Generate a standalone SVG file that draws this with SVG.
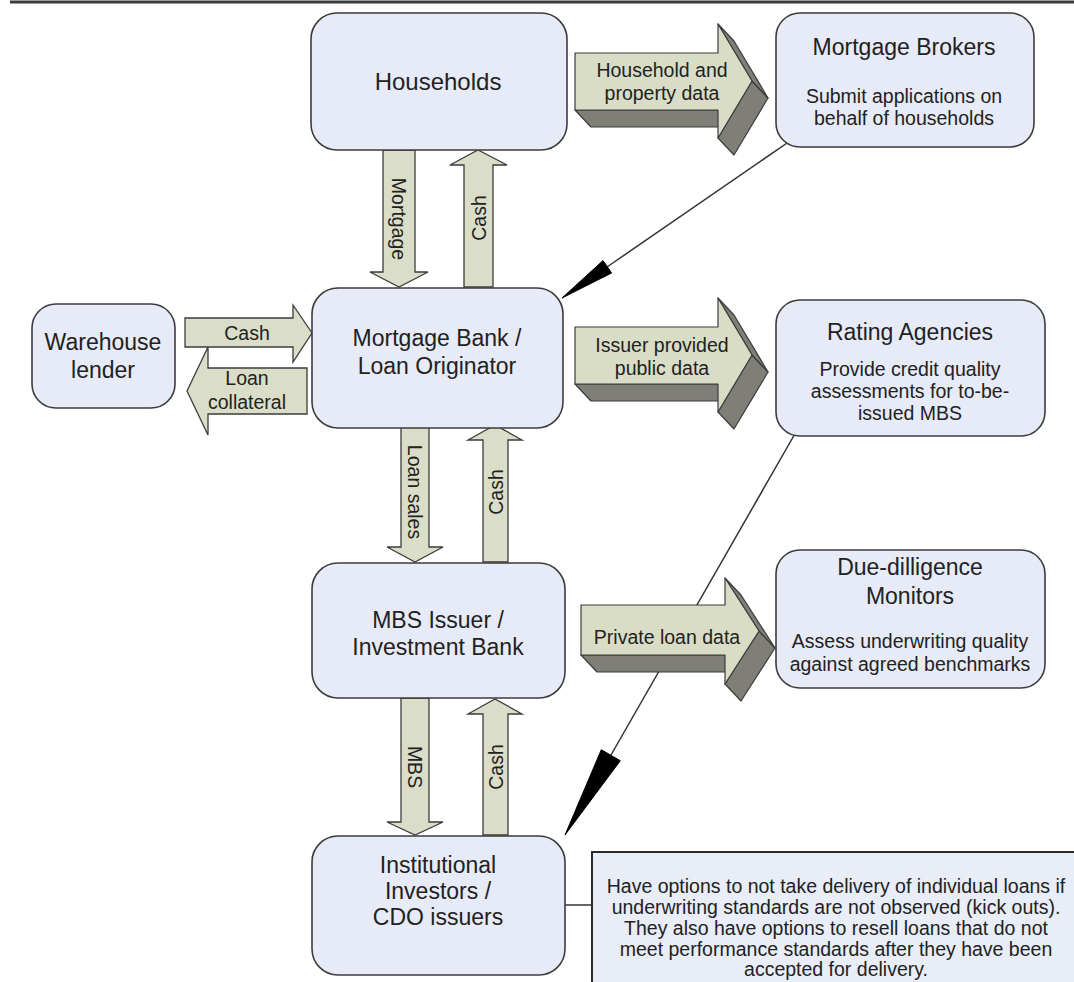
<svg xmlns="http://www.w3.org/2000/svg" width="1074" height="982" viewBox="0 0 1074 982">
<style>
  .node { fill: #e7eaf7; stroke: #3c3c3c; stroke-width: 1.6; }
  .t { font-family: "Liberation Sans", Arial, sans-serif; fill: #222; text-anchor: middle; }
  .big { font-size: 23px; }
  .sub { font-size: 19.5px; }
  .lab { font-size: 19.5px; }
  .nt { font-size: 19.5px; }
  .flow { fill: #dadec8; stroke: #3c3c3c; stroke-width: 1.3; stroke-linejoin: miter; }
  .side { fill: #7f7f77; stroke: #3c3c3c; stroke-width: 1.2; stroke-linejoin: round; }
  .face { fill: #d9ddc6; stroke: #3c3c3c; stroke-width: 1.2; stroke-linejoin: round; }
  .ln { stroke: #333; stroke-width: 1.5; fill: none; }
  .head { fill: #000; stroke: #000; stroke-width: 1; stroke-linejoin: round; }
  .note { fill: #e8edf8; stroke: #2a2a2a; stroke-width: 2; }
</style>
<rect x="0" y="0" width="1074" height="982" fill="#ffffff"/>
<line x1="10" y1="2" x2="1074" y2="2" stroke="#3a3a3a" stroke-width="3"/>

<g id="connectors">
  <!-- line connectors -->
  <line class="ln" x1="790" y1="141" x2="607" y2="267"/>
  <polygon class="head" points="603,260.6 611.6,273 562,298"/>
  <line class="ln" x1="796" y1="432" x2="611" y2="755"/>
  <polygon class="head" points="601.3,749.7 620.3,760.7 565,835"/>
  <line class="ln" x1="565" y1="905" x2="592" y2="905"/>

  <!-- vertical flows -->
  <polygon class="flow" points="383,150 415,150 415,272 428,272 399,287 370,272 383,272"/>
  <text class="t lab" transform="translate(399,219) rotate(90)" dy="0.35em">Mortgage</text>
  <polygon class="flow" points="464,287 493,287 493,165 507,165 478,150 450,165 464,165"/>
  <text class="t lab" transform="translate(479,218) rotate(-90)" dy="0.35em">Cash</text>

  <polygon class="flow" points="401,427 429,427 429,547 443,547 415,562 387,547 401,547"/>
  <text class="t lab" transform="translate(415,492) rotate(90)" dy="0.35em">Loan sales</text>
  <polygon class="flow" points="483,562 508,562 508,440 522,440 495,425 468,440 483,440"/>
  <text class="t lab" transform="translate(496,492) rotate(-90)" dy="0.35em">Cash</text>

  <polygon class="flow" points="401,698 429,698 429,822 443,822 415,835 387,822 401,822"/>
  <text class="t lab" transform="translate(415,767) rotate(90)" dy="0.35em">MBS</text>
  <polygon class="flow" points="483,835 508,835 508,714 522,714 495,699 468,714 483,714"/>
  <text class="t lab" transform="translate(496,767) rotate(-90)" dy="0.35em">Cash</text>

  <!-- horizontal flows with warehouse lender -->
  <polygon class="flow" points="185,318 293,318 293,305 312,333 293,362 293,347 185,347"/>
  <text class="t lab" x="247" y="340">Cash</text>
  <polygon class="flow" points="307,368 307,414 208,414 208,435 187,391 208,347 208,368"/>
  <text class="t lab" x="247" y="385">Loan</text>
  <text class="t lab" x="247" y="409">collateral</text>

  <!-- 3D data arrows -->
  <g id="arrow-household">
    <polygon class="side" points="575,110 718,110 734,127 591,127"/>
    <polygon class="side" points="718,138 752,81 768,98 734,155"/>
    <polygon class="side" points="718,24 752,81 768,98 734,41"/>
    <polygon class="face" points="575,53 718,53 718,24 752,81 718,138 718,110 575,110"/>
    <text class="t lab" x="662" y="77">Household and</text>
    <text class="t lab" x="662" y="100">property data</text>
  </g>
  <g id="arrow-issuer">
    <polygon class="side" points="575,384 718,384 734,401 591,401"/>
    <polygon class="side" points="718,412 752,355 768,372 734,429"/>
    <polygon class="side" points="718,298 752,355 768,372 734,315"/>
    <polygon class="face" points="575,327 718,327 718,298 752,355 718,412 718,384 575,384"/>
    <text class="t lab" x="662" y="352">Issuer provided</text>
    <text class="t lab" x="662" y="375">public data</text>
  </g>
  <g id="arrow-private">
    <polygon class="side" points="581,655 725,655 741,672 597,672"/>
    <polygon class="side" points="725,684 759,631 775,648 741,701"/>
    <polygon class="side" points="725,578 759,631 775,648 741,595"/>
    <polygon class="face" points="581,605 725,605 725,578 759,631 725,684 725,655 581,655"/>
    <text class="t lab" x="667" y="644">Private loan data</text>
  </g>
</g>

<g id="households">
  <rect class="node" x="311" y="13" width="256" height="137" rx="26"/>
  <text class="t" font-size="24" x="438" y="90">Households</text>
</g>
<g id="mortgage-bank">
  <rect class="node" x="312" y="288" width="251" height="140" rx="26"/>
  <text class="t big" x="437" y="346">Mortgage Bank /</text>
  <text class="t big" x="437" y="374">Loan Originator</text>
</g>
<g id="warehouse-lender">
  <rect class="node" x="32" y="304" width="143" height="104" rx="24"/>
  <text class="t big" x="103" y="350">Warehouse</text>
  <text class="t big" x="103" y="378">lender</text>
</g>
<g id="mbs-issuer">
  <rect class="node" x="312" y="563" width="253" height="135" rx="26"/>
  <text class="t big" x="438" y="628">MBS Issuer /</text>
  <text class="t big" x="438" y="655">Investment Bank</text>
</g>
<g id="institutional-investors">
  <rect class="node" x="312" y="836" width="253" height="139" rx="26"/>
  <text class="t big" x="438" y="873">Institutional</text>
  <text class="t big" x="438" y="899">Investors /</text>
  <text class="t big" x="438" y="925">CDO issuers</text>
</g>
<g id="mortgage-brokers">
  <rect class="node" x="776" y="13" width="258" height="134" rx="24"/>
  <text class="t big" x="904" y="55">Mortgage Brokers</text>
  <text class="t sub" x="904" y="103">Submit applications on</text>
  <text class="t sub" x="904" y="125">behalf of households</text>
</g>
<g id="rating-agencies">
  <rect class="node" x="776" y="300" width="269" height="136" rx="24"/>
  <text class="t big" x="910" y="340">Rating Agencies</text>
  <text class="t sub" x="910" y="376">Provide credit quality</text>
  <text class="t sub" x="910" y="398">assessments for to-be-</text>
  <text class="t sub" x="910" y="420">issued MBS</text>
</g>
<g id="due-diligence-monitors">
  <rect class="node" x="776" y="550" width="269" height="138" rx="24"/>
  <text class="t big" x="910" y="575">Due-dilligence</text>
  <text class="t big" x="910" y="604">Monitors</text>
  <text class="t sub" x="910" y="648">Assess underwriting quality</text>
  <text class="t sub" x="910" y="671">against agreed benchmarks</text>
</g>
<g id="note">
  <rect class="note" x="592" y="852" width="490" height="140"/>
  <text class="t nt" x="836" y="893">Have options to not take delivery of individual loans if</text>
  <text class="t nt" x="836" y="914">underwriting standards are not observed (kick outs).</text>
  <text class="t nt" x="836" y="935">They also have options to resell loans that do not</text>
  <text class="t nt" x="836" y="956">meet performance standards after they have been</text>
  <text class="t nt" x="836" y="976">accepted for delivery.</text>
</g>
</svg>
